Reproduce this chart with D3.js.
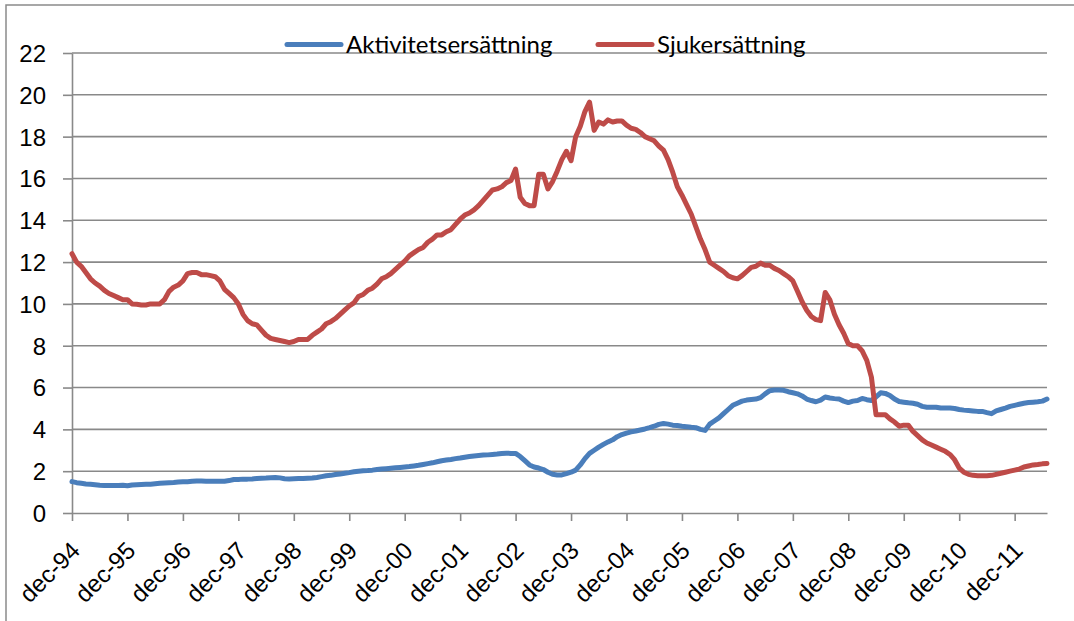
<!DOCTYPE html>
<html>
<head>
<meta charset="utf-8">
<script src="https://cdn.jsdelivr.net/npm/d3@7"></script>
<style>
  body { margin: 0; background: #fff; }
  svg { display: block; font-family: Lato, "Open Sans", sans-serif; }
  .axis path, .axis line { stroke: #898989; }
  .axis text { fill: #000; }
</style>
</head>
<body>
<svg id="chart" width="1074" height="621"></svg>
<script>
// month names (Swedish) and year-end tick labels
const months = ['jan', 'feb', 'mar', 'apr', 'maj', 'jun', 'jul', 'aug', 'sep', 'okt', 'nov', 'dec'];
const seriesNames = ['Aktivitetsersättning', 'Sjukersättning'];
const seriesColors = ['#4a7ebb', '#be4b48'];
const yTicks = [0, 2, 4, 6, 8, 10, 12, 14, 16, 18, 20, 22];

// monthly values, dec-94 .. jul-12
const aktivitet = [
  1.5, 1.45, 1.42, 1.39, 1.37, 1.35, 1.33, 1.32, 1.32, 1.32, 1.32, 1.33,
  1.3, 1.34, 1.35, 1.36, 1.37, 1.38, 1.4, 1.42, 1.44, 1.45, 1.46, 1.48,
  1.5, 1.5, 1.52, 1.53, 1.53, 1.52, 1.52, 1.52, 1.52, 1.52, 1.55, 1.6,
  1.6, 1.62, 1.62, 1.63, 1.65, 1.66, 1.67, 1.69, 1.7, 1.68, 1.64, 1.63,
  1.64, 1.65, 1.65, 1.66, 1.67, 1.7, 1.74, 1.78, 1.8, 1.84, 1.86, 1.9,
  1.93, 1.97, 2.0, 2.02, 2.03, 2.05, 2.08, 2.1, 2.12, 2.14, 2.16, 2.18,
  2.2, 2.22, 2.25, 2.28, 2.32, 2.36, 2.4, 2.45, 2.5, 2.53, 2.56, 2.6,
  2.63, 2.67, 2.7, 2.73, 2.75, 2.77, 2.78, 2.8, 2.82, 2.85, 2.86, 2.85,
  2.85, 2.7, 2.5, 2.3, 2.2, 2.15, 2.08, 1.95, 1.85, 1.82, 1.82, 1.88,
  1.95, 2.05, 2.3, 2.6, 2.85, 3.0, 3.15, 3.28, 3.4, 3.5, 3.65, 3.75,
  3.82, 3.88, 3.92, 3.97, 4.02, 4.08, 4.15, 4.24, 4.28, 4.25, 4.2, 4.18,
  4.15, 4.13, 4.1, 4.08, 4.0, 3.95, 4.25, 4.4, 4.55, 4.75, 4.95, 5.15,
  5.25, 5.35, 5.4, 5.43, 5.45, 5.52, 5.7, 5.85, 5.88, 5.88, 5.87, 5.8,
  5.75, 5.7, 5.6, 5.45, 5.38, 5.32, 5.4, 5.55, 5.5, 5.47, 5.45, 5.35,
  5.28, 5.35, 5.38, 5.48, 5.42, 5.38, 5.55, 5.75, 5.72, 5.62, 5.45, 5.33,
  5.3, 5.27, 5.25, 5.2, 5.1, 5.06, 5.06, 5.06, 5.02, 5.02, 5.02, 5.0,
  4.95, 4.92, 4.9, 4.88, 4.86, 4.86, 4.8, 4.75, 4.88, 4.95, 5.02, 5.1,
  5.15, 5.2, 5.25, 5.28, 5.3, 5.32, 5.35, 5.45
];
const sjuk = [
  12.4, 12.0, 11.8, 11.5, 11.2, 11.0, 10.85, 10.65, 10.5, 10.4, 10.3, 10.2,
  10.2, 10.0, 9.98, 9.95, 9.95, 10.0, 10.0, 10.0, 10.2, 10.6, 10.8, 10.9,
  11.1, 11.45, 11.5, 11.5, 11.4, 11.4, 11.35, 11.3, 11.1, 10.7, 10.5, 10.3,
  10.0, 9.5, 9.2, 9.05, 9.0, 8.75, 8.5, 8.35, 8.3, 8.25, 8.2, 8.15,
  8.2, 8.3, 8.3, 8.3, 8.5, 8.65, 8.8, 9.05, 9.15, 9.3, 9.5, 9.7,
  9.9, 10.05, 10.35, 10.45, 10.65, 10.75, 10.95, 11.2, 11.3, 11.45, 11.65, 11.85,
  12.05, 12.3, 12.45, 12.6, 12.7, 12.95, 13.1, 13.3, 13.3, 13.45, 13.55, 13.8,
  14.05, 14.25, 14.35, 14.5, 14.7, 14.95, 15.2, 15.45, 15.5, 15.6, 15.8, 15.9,
  16.45, 15.1, 14.8, 14.7, 14.7, 16.2, 16.2, 15.5, 15.85, 16.35, 16.9, 17.3,
  16.85, 18.0, 18.5, 19.2, 19.65, 18.3, 18.7, 18.6, 18.8, 18.7, 18.75, 18.75,
  18.55, 18.4, 18.35, 18.2, 18.0, 17.9, 17.8, 17.55, 17.35, 16.9, 16.3, 15.6,
  15.2, 14.75, 14.3, 13.7, 13.1, 12.6, 12.0, 11.85, 11.7, 11.55, 11.35, 11.25,
  11.2, 11.35, 11.55, 11.75, 11.8, 11.95, 11.85, 11.85, 11.7, 11.6, 11.45, 11.3,
  11.1, 10.6, 10.1, 9.7, 9.4, 9.25, 9.2, 10.55, 10.2, 9.5, 9.0, 8.6,
  8.1, 8.0, 8.0, 7.75, 7.3, 6.5, 4.7, 4.7, 4.7, 4.5, 4.35, 4.15,
  4.2, 4.2, 3.9, 3.7, 3.5, 3.35, 3.25, 3.15, 3.05, 2.95, 2.8, 2.55,
  2.15, 1.95, 1.85, 1.8, 1.78, 1.78, 1.78, 1.8, 1.85, 1.9, 1.95, 2.0,
  2.05, 2.1, 2.2, 2.25, 2.3, 2.32, 2.35, 2.37
];

// category labels like "dec-94", "jan-95", ...
const categories = aktivitet.map((d, i) => {
  const m = (11 + i) % 12;
  const yr = 1994 + Math.floor((11 + i) / 12);
  return months[m] + '-' + String(yr).slice(2);
});
const decLabels = categories.filter(c => c.startsWith('dec'));

const svg = d3.select('#chart');
const margin = { left: 72, right: 27, top: 53, bottom: 108 };
const width = 1074 - margin.left - margin.right;
const height = 621 - margin.top - margin.bottom;

// outer frame
svg.append('rect')
  .attr('x', 6).attr('y', 5)
  .attr('width', 1090).attr('height', 640)
  .attr('fill', 'none')
  .attr('stroke', '#8a8a8a')
  .attr('stroke-width', 1.5);

const g = svg.append('g')
  .attr('transform', `translate(${margin.left},${margin.top})`);

const x = d3.scalePoint().domain(categories).range([0, width]);
const y = d3.scaleLinear().domain([0, 22]).range([height, 0]);

// gridlines
g.append('g')
  .selectAll('line')
  .data(yTicks.filter(d => d > 0))
  .join('line')
  .attr('x1', 0).attr('x2', width)
  .attr('y1', d => y(d)).attr('y2', d => y(d))
  .attr('stroke', '#898989')
  .attr('stroke-width', 1.6);

// y axis
const yAxis = g.append('g')
  .attr('class', 'axis')
  .call(d3.axisLeft(y).tickValues(yTicks).tickSize(9).tickPadding(17).tickSizeOuter(0));
yAxis.selectAll('line, path').attr('stroke-width', 1.6);
yAxis.selectAll('text').style('font-size', '24px').attr('dy', '0.35em');

// x axis
const xAxis = g.append('g')
  .attr('class', 'axis')
  .attr('transform', `translate(0,${height})`)
  .call(d3.axisBottom(x).tickValues(decLabels).tickSize(8).tickSizeOuter(0));
xAxis.selectAll('line, path').attr('stroke-width', 1.6);
xAxis.selectAll('text')
  .style('font-size', '24px')
  .style('text-anchor', 'end')
  .attr('x', 0).attr('y', 0).attr('dy', 0)
  .attr('transform', 'translate(9,39) rotate(-45)');

// lines
const line = d3.line()
  .x((d, i) => x(categories[i]))
  .y(d => y(d));

[aktivitet, sjuk].forEach((series, k) => {
  g.append('path')
    .datum(series)
    .attr('fill', 'none')
    .attr('stroke', seriesColors[k])
    .attr('stroke-width', 5)
    .attr('stroke-linejoin', 'round')
    .attr('stroke-linecap', 'round')
    .attr('d', line);
});

// legend
const legendX = [287, 598];
const legend = svg.append('g');
seriesNames.forEach((name, k) => {
  legend.append('line')
    .attr('x1', legendX[k]).attr('x2', legendX[k] + 54)
    .attr('y1', 44.5).attr('y2', 44.5)
    .attr('stroke', seriesColors[k])
    .attr('stroke-width', 5)
    .attr('stroke-linecap', 'round');
  legend.append('text')
    .attr('x', legendX[k] + 59)
    .attr('y', 53)
    .style('font-size', '24px')
    .text(name);
});
</script>
</body>
</html>
